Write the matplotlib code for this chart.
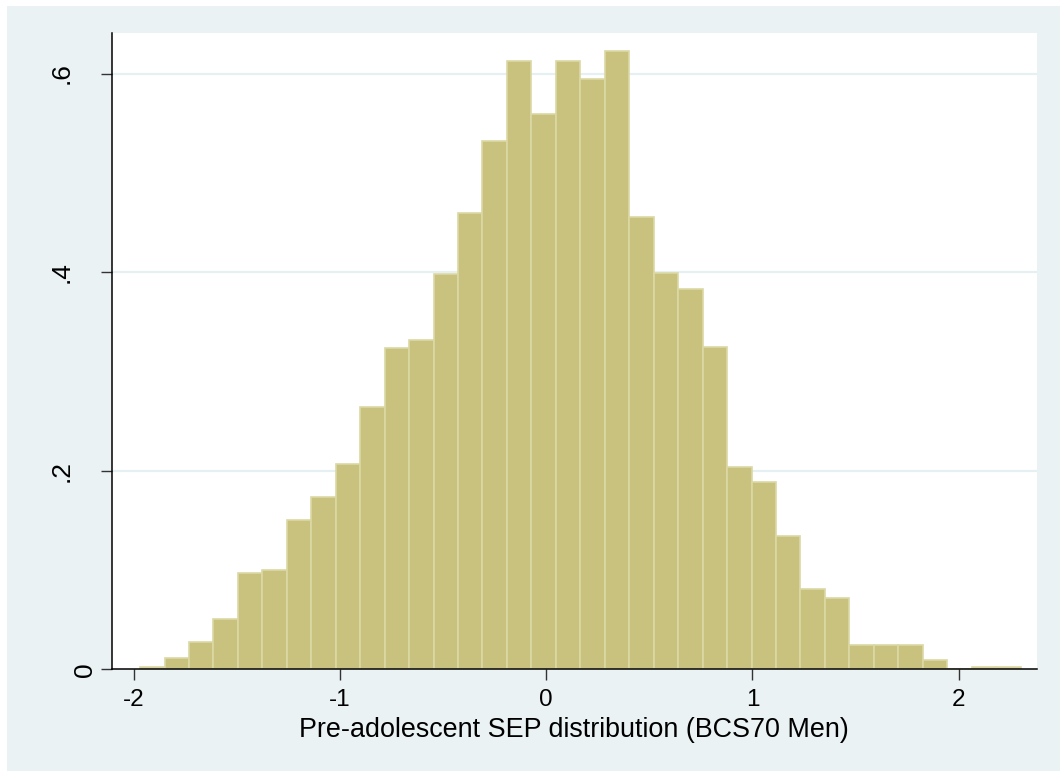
import numpy as np
import matplotlib
matplotlib.use("Agg")
import matplotlib.pyplot as plt
import matplotlib.transforms as mtransforms
from matplotlib.patches import Rectangle

# histogram bins (density)
bin_start = -1.969
bin_width = 0.11858
density = [0.002, 0.011, 0.027, 0.051, 0.097, 0.100, 0.150, 0.174, 0.207,
           0.264, 0.324, 0.332, 0.398, 0.460, 0.532, 0.613, 0.559, 0.613,
           0.594, 0.623, 0.455, 0.399, 0.383, 0.325, 0.204, 0.189, 0.134,
           0.081, 0.0715, 0.024, 0.024, 0.024, 0.0094, 0.0, 0.002, 0.002]

xticks = [-2, -1, 0, 1, 2]
xtick_labels = ["-2", "-1", "0", "1", "2"]
yticks = [0, 0.2, 0.4, 0.6]
ytick_labels = ["0", ".2", ".4", ".6"]
xlabel = "Pre-adolescent SEP distribution (BCS70 Men)"

plt.rcParams['font.family'] = ['Liberation Sans', 'DejaVu Sans']

W, H = 1060, 771
fig = plt.figure(figsize=(W / 100, H / 100), dpi=100, facecolor="white")
bg = Rectangle((7 / W, 0), 1 - 7 / W, 1 - 6 / H, transform=fig.transFigure,
               facecolor="#EAF2F3", edgecolor="none", zorder=-10)
fig.patches.append(bg)

ax = fig.add_axes([112 / W, 1 - 669.3 / H, (1036.7 - 112) / W, (669.3 - 33.3) / H])
ax.set_facecolor("white")

lefts = bin_start + bin_width * np.arange(len(density))
ax.bar(lefts, density, width=bin_width, align="edge", color="#C9C27F",
       edgecolor="#DCD8A4", linewidth=1.2, zorder=2)

for y in yticks[1:]:
    ax.axhline(y, color="#E6EFF1", linewidth=1.6, zorder=1)

ax.set_xlim(-2.105, 2.378)
ax.set_ylim(0, 0.6405)

ax.set_xticks(xticks)
ax.set_xticklabels(xtick_labels)
ax.set_yticks(yticks)
ax.set_yticklabels([])

ax.tick_params(axis="both", length=8, width=1, color="#333333",
               labelsize=17.5, labelcolor="black")
ax.tick_params(axis="x", pad=6.5)

# vertical y labels, drawn by hand (the "0" sits further right, as in the original)
trans = mtransforms.blended_transform_factory(fig.transFigure, ax.transData)
for val, lab in zip(yticks, ytick_labels):
    xpix = 91.7 if lab == "0" else 68.3
    ax.text(xpix / W, val, lab, transform=trans, rotation=90,
            rotation_mode="anchor", ha="center", va="baseline",
            fontsize=19, color="black", clip_on=False)

for s in ["top", "right"]:
    ax.spines[s].set_visible(False)
for s in ["left", "bottom"]:
    ax.spines[s].set_color("black")
    ax.spines[s].set_linewidth(1.1)
    ax.spines[s].set_zorder(3)

ax.set_xlabel(xlabel, fontsize=19.4)
ax.xaxis.label.set_va("baseline")
ax.xaxis.set_label_coords(0.5, (669.3 - 736.7) / (669.3 - 33.3))

fig.savefig("out.png", dpi=100, facecolor=fig.get_facecolor())
